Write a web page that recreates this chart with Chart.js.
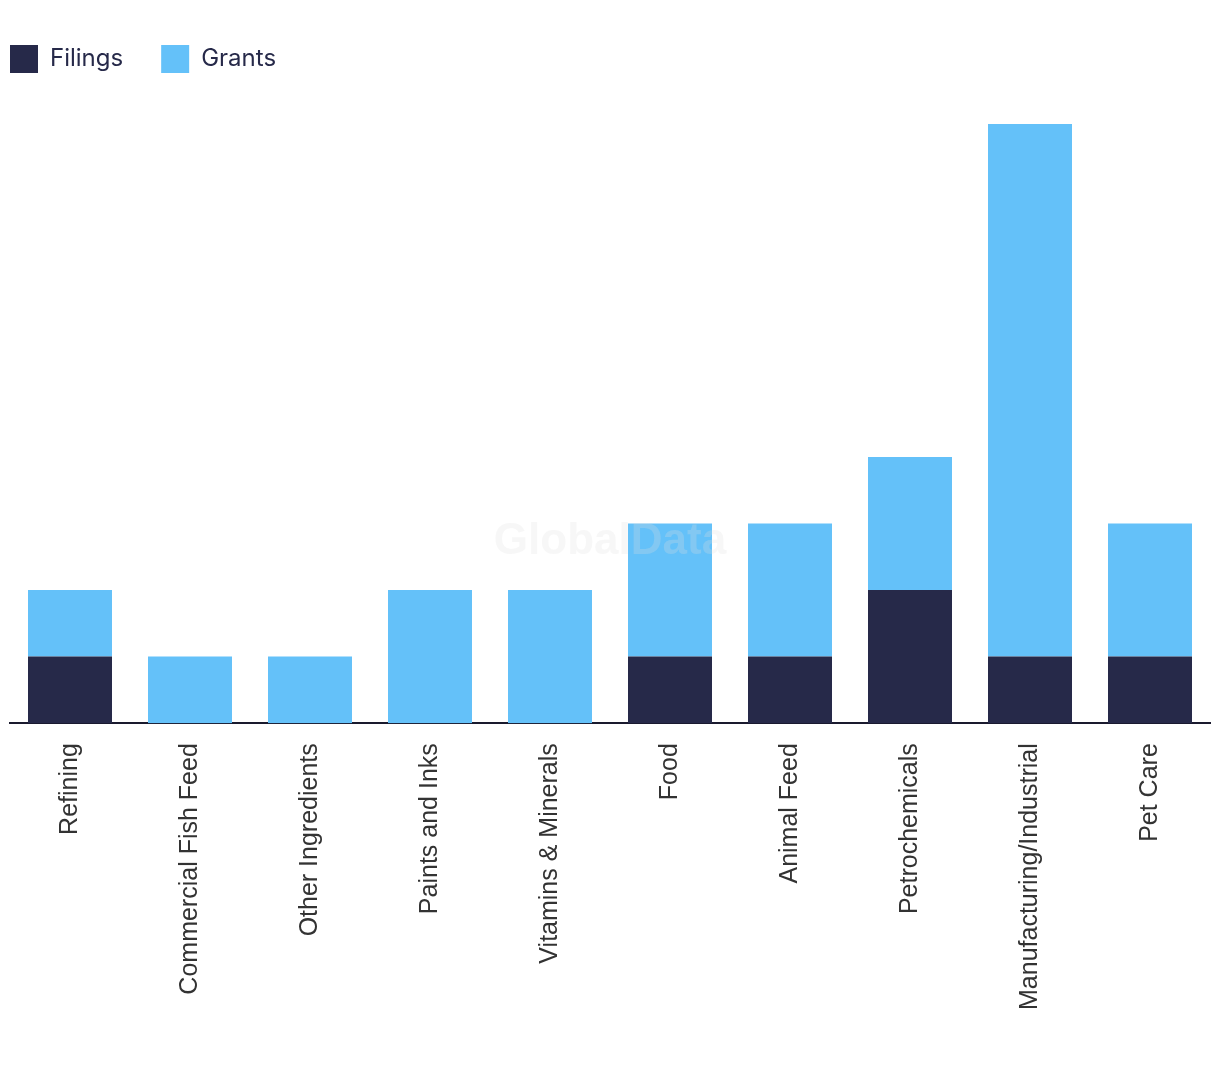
<!DOCTYPE html>
<html><head><meta charset="utf-8">
<script src="https://cdn.jsdelivr.net/npm/chart.js@4.4.1/dist/chart.umd.min.js"></script>
<style>html,body{margin:0;padding:0;background:#fff}#wrap{width:1220px;height:1084px}</style>
</head><body><div id="wrap"><canvas id="c"></canvas></div>
<script>
const categories = ["Refining","Commercial Fish Feed","Other Ingredients","Paints and Inks","Vitamins & Minerals","Food","Animal Feed","Petrochemicals","Manufacturing/Industrial","Pet Care"];
const filings = [1,0,0,0,0,1,1,2,1,1];
const grants  = [1,1,1,2,2,2,2,2,8,2];

const LEGEND_PAD = 38;

const watermark = {
  id:'wm',
  afterDatasetsDraw(chart){
    const ctx = chart.ctx;
    ctx.save();
    ctx.font = 'bold 44px "Liberation Sans", Arial, sans-serif';
    ctx.fillStyle = 'rgba(225,225,225,0.25)';
    ctx.textAlign = 'center';
    ctx.textBaseline = 'middle';
    ctx.fillText('GlobalData', 610, 542);
    ctx.restore();
  }
};

const legendTweak = {
  id:'legendTweak',
  afterInit(chart){
    const lg = chart.legend;
    const origFit = lg.fit;
    lg.fit = function(){ origFit.call(this); this.height = 117; };
  },
  afterLayout(chart){
    const lg = chart.legend;
    lg.left = 10 - LEGEND_PAD;
    lg.top = 45 - LEGEND_PAD;
    if (lg.adjustHitBoxes) lg.adjustHitBoxes();
  }
};

new Chart(document.getElementById('c'), {
  type:'bar',
  data:{
    labels:categories,
    datasets:[
      {label:'Filings', data:filings, backgroundColor:'#262949', categoryPercentage:0.7, barPercentage:1},
      {label:'Grants', data:grants, backgroundColor:'#64C1F9', categoryPercentage:0.7, barPercentage:1}
    ]
  },
  options:{
    responsive:true, maintainAspectRatio:false, animation:false,
    layout:{padding:{left:10,right:10,top:7,bottom:54}},
    plugins:{
      legend:{position:'top', align:'start',
        labels:{boxWidth:28, boxHeight:28, padding:LEGEND_PAD, color:'#262949',
          font:{family:'Inter, "Noto Sans", sans-serif', size:24}}},
      tooltip:{enabled:false}
    },
    scales:{
      x:{stacked:true, grid:{display:false, drawTicks:false},
        border:{display:true, color:'#1a1a2e', width:2},
        ticks:{maxRotation:90, minRotation:90, padding:20, color:'#333',
          font:{family:'"Liberation Sans", Arial, sans-serif', size:25}}},
      y:{stacked:true, display:false, min:0, max:9}
    }
  },
  plugins:[watermark, legendTweak]
});
</script></body></html>
